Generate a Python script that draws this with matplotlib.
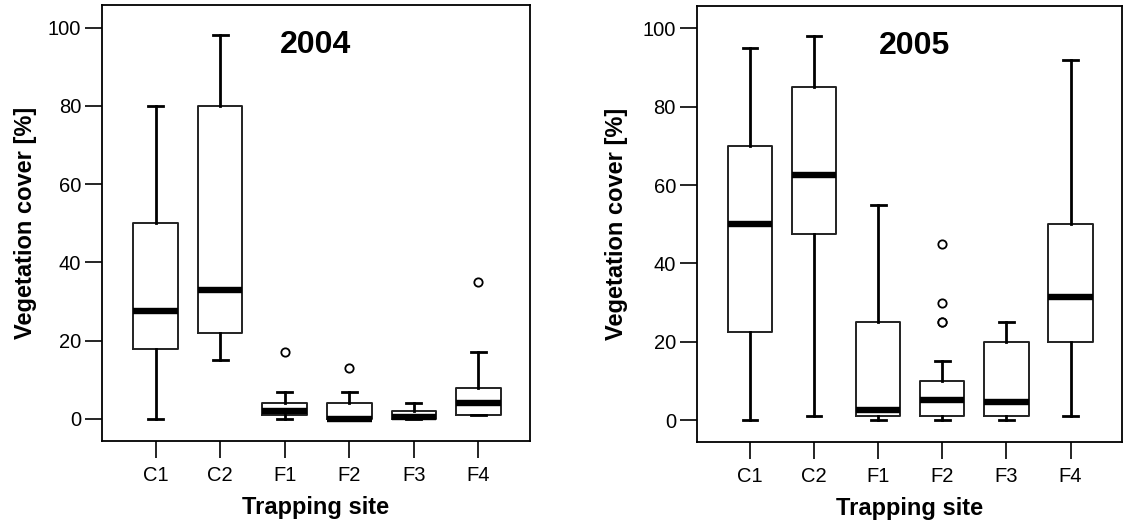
import matplotlib
matplotlib.use("Agg")
import matplotlib.pyplot as plt

plt.rcParams['font.family'] = ['Liberation Sans', 'DejaVu Sans']

sites = ["C1", "C2", "F1", "F2", "F3", "F4"]

# 2004
whislo_2004 = [0, 15, 0, 0, 0, 1]
q1_2004 = [18, 22, 1, 0, 0, 1]
med_2004 = [27.5, 33, 2, 0, 0.5, 4]
q3_2004 = [50, 80, 4, 4, 2, 8]
whishi_2004 = [80, 98, 7, 7, 4, 17]
fliers_2004 = [[], [], [17], [13], [], [35]]

# 2005
whislo_2005 = [0, 1, 0, 0, 0, 1]
q1_2005 = [22.5, 47.5, 1, 1, 1, 20]
med_2005 = [50, 62.5, 2.5, 5, 4.5, 31.5]
q3_2005 = [70, 85, 25, 10, 20, 50]
whishi_2005 = [95, 98, 55, 15, 25, 92]
fliers_2005 = [[], [], [], [45, 30, 25, 25], [], []]

years = ["2004", "2005"]


def make_stats(lo, q1, med, q3, hi, fl):
    return [dict(whislo=a, q1=b, med=c, q3=d, whishi=e, fliers=f, label=s)
            for a, b, c, d, e, f, s in zip(lo, q1, med, q3, hi, fl, sites)]


stats = [make_stats(whislo_2004, q1_2004, med_2004, q3_2004, whishi_2004, fliers_2004),
         make_stats(whislo_2005, q1_2005, med_2005, q3_2005, whishi_2005, fliers_2005)]

fig = plt.figure(figsize=(11.23, 5.23), dpi=100)
axes = [fig.add_axes([0.0908, 0.157, 0.3812, 0.833]),
        fig.add_axes([0.6204, 0.155, 0.3786, 0.8335])]
title_x = [3.47, 3.57]
ylab_x = [-0.152, -0.162]

for ax, st, yr, tx, lx in zip(axes, stats, years, title_x, ylab_x):
    ax.bxp(st, positions=range(1, 7), widths=0.69, capwidths=0.23,
           boxprops=dict(color='#222222', linewidth=1.4),
           whiskerprops=dict(color='black', linewidth=2.0),
           capprops=dict(color='black', linewidth=2.0),
           medianprops=dict(color='black', linewidth=4.6, solid_capstyle='butt'),
           flierprops=dict(marker='o', markerfacecolor='white', markeredgecolor='black',
                           markersize=6, markeredgewidth=1.3))
    ax.set_xlim(0.17, 6.8)
    ax.set_ylim(-5.6, 105.7)
    ax.set_yticks([0, 20, 40, 60, 80, 100])
    ax.set_xticks(range(1, 7))
    ax.set_xticklabels(sites)
    ax.tick_params(direction='out', length=12, width=1.2, labelsize=14.5, colors='black')
    ax.tick_params(axis='x', pad=6)
    ax.tick_params(axis='y', pad=3)
    for sp in ax.spines.values():
        sp.set_linewidth(1.3)
        sp.set_color('black')
    ax.set_xlabel("Trapping site", fontsize=17, fontweight='bold', labelpad=8)
    ax.set_ylabel("Vegetation cover [%]", fontsize=17, fontweight='bold')
    ax.yaxis.set_label_coords(lx, 0.5)
    ax.text(tx, 95.6, yr, fontsize=23, fontweight='bold', ha='center', va='center')

fig.savefig("out.png", dpi=100)
